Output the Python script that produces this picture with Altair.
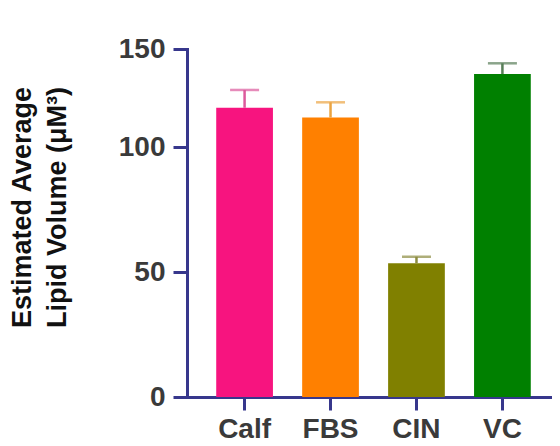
import altair as alt
import pandas as pd

groups = ["Calf", "FBS", "CIN", "VC"]
means = [120.0, 115.0, 53.5, 137.2]
uppers = [129.1, 122.8, 56.1, 142.7]
bar_colors = ["#F7147F", "#FF8000", "#808000", "#008000"]
err_colors = ["#DC5A9C", "#EBA441", "#8C8C40", "#587E58"]
y_ticks = [0, 50, 100, 150]

df = pd.DataFrame({"group": groups, "mean": means, "upper": uppers,
                   "bc": bar_colors, "ec": err_colors})

AXIS = "#37378C"
TXT = "#3A3A3A"
FONT = "Liberation Sans"

xscale = alt.Scale(paddingInner=0.34, paddingOuter=0.34, range=[0, 373])

x = alt.X("group:N", sort=groups, title=None, scale=xscale,
          axis=alt.Axis(labelAngle=0, labelAlign="center", labelBaseline="top",
                        labelFont=FONT, labelFontSize=28,
                        labelFontWeight="bold", labelColor=TXT, labelPadding=5,
                        domainColor=AXIS, domainWidth=3, tickColor=AXIS,
                        tickWidth=3, tickSize=13, ticks=True, tickOpacity=1,
                        grid=False))

yscale = alt.Scale(domain=[0, 50, 100, 150], range=[348, 223, 98, 0],
                   zero=False, nice=False)

y = alt.Y("mean:Q", scale=yscale, stack=None,
          title=["Estimated Average", "Lipid Volume (\u03bcM\u00b3)"],
          axis=alt.Axis(values=y_ticks, labelFont=FONT, labelFontSize=28,
                        labelFontWeight="bold", labelColor=TXT, labelPadding=8,
                        domainColor=AXIS, domainWidth=3, domainCap="square",
                        tickColor=AXIS, tickWidth=3, tickSize=14, grid=False,
                        titleFont=FONT, titleFontSize=27, titleFontWeight="bold",
                        titleColor="#111111", titleLineHeight=35,
                        titleX=-151, titleY=158))

bars = alt.Chart(df).mark_bar().encode(
    x=x, y=y, color=alt.Color("bc:N", scale=None))

rules = alt.Chart(df).mark_rule(strokeWidth=2.5).encode(
    x=alt.X("group:N", sort=groups, scale=xscale),
    y=alt.Y("mean:Q", scale=yscale),
    y2="upper:Q",
    color=alt.Color("ec:N", scale=None))

caps = alt.Chart(df).mark_tick(size=29, thickness=2.5, orient="horizontal").encode(
    x=alt.X("group:N", sort=groups, scale=xscale),
    y=alt.Y("upper:Q", scale=yscale),
    color=alt.Color("ec:N", scale=None))

chart = alt.layer(bars, rules, caps).properties(
    width=365, height=348,
    background="white",
    autosize=alt.AutoSizeParams(type="none"),
    padding={"left": 179, "top": 41, "right": 0, "bottom": 41},
).configure_view(stroke=None)

chart.save("out.html", embed_options={"renderer": "svg", "actions": False})
